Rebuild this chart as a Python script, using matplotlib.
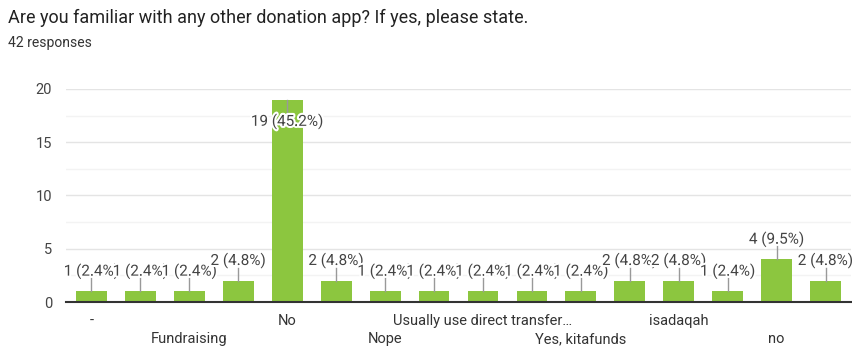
import matplotlib.pyplot as plt
import matplotlib.patheffects as pe
from matplotlib.ticker import MultipleLocator

plt.rcParams['font.family'] = ['Roboto', 'DejaVu Sans']

title = "Are you familiar with any other donation app? If yes, please state."
subtitle = "42 responses"

# only every other answer gets a visible axis label
answers = ["-", "", "Fundraising", "", "No", "", "Nope", "",
           "Usually use direct transfer…", "", "Yes, kitafunds", "",
           "isadaqah", "", "no", ""]
counts = [1, 1, 1, 2, 19, 2, 1, 1, 1, 1, 1, 2, 2, 1, 4, 2]
total = 42

bar_color = "#8cc63f"
text_color = "#444444"

fig = plt.figure(figsize=(8.53, 3.5), dpi=100)
ax = fig.add_axes([0.0774, 0.137, 0.9203, 0.609])

x = list(range(len(counts)))
ax.bar(x, counts, width=0.63, color=bar_color, zorder=2)

ax.set_xlim(-0.52, len(counts) - 0.48)
ax.set_ylim(0, 20)
ax.yaxis.set_major_locator(MultipleLocator(5))
ax.yaxis.set_minor_locator(MultipleLocator(2.5))
ax.grid(axis="y", which="major", color="#e4e4e4", linewidth=1, zorder=0)
ax.grid(axis="y", which="minor", color="#f3f3f3", linewidth=1, zorder=0)
for side in ("top", "right", "left"):
    ax.spines[side].set_visible(False)
ax.spines["bottom"].set_color("#333333")
ax.spines["bottom"].set_linewidth(1.5)
ax.spines["bottom"].set_zorder(4)
ax.tick_params(axis="y", which="both", length=0, labelsize=10.5,
               labelcolor=text_color, pad=10)
ax.tick_params(axis="x", length=0, labelbottom=False)

# category names staggered over two rows
for i, name in enumerate(answers):
    if not name:
        continue
    row = (i // 2) % 2
    ax.annotate(name, (i, 0), xycoords="data", xytext=(0, -19 - 18 * row),
                textcoords="offset pixels", ha="center", va="center",
                fontsize=10.5, color="#333333")

# value labels with leader lines
halo = [pe.withStroke(linewidth=3, foreground="white")]
px_per_unit = 213 / 20
for i, c in enumerate(counts):
    label = f"{c} ({c / total * 100:.1f}%)"
    above = c + 20 / px_per_unit
    if above > 19.5:
        ty = c - 22 / px_per_unit
        ax.plot([i, i], [c, c - 13 / px_per_unit], color="#999999", lw=1, zorder=3)
    else:
        ty = above
        ax.plot([i, i], [c, c + 13 / px_per_unit], color="#999999", lw=1, zorder=3)
    ax.text(i, ty, label, ha="center", va="center", fontsize=11,
            color=text_color, path_effects=halo, zorder=5 + i)

fig.text(0.009, 0.948, title, fontsize=13, color="#222222", va="center")
fig.text(0.009, 0.877, subtitle, fontsize=10, color="#333333", va="center")

fig.savefig("out.png", dpi=100)
